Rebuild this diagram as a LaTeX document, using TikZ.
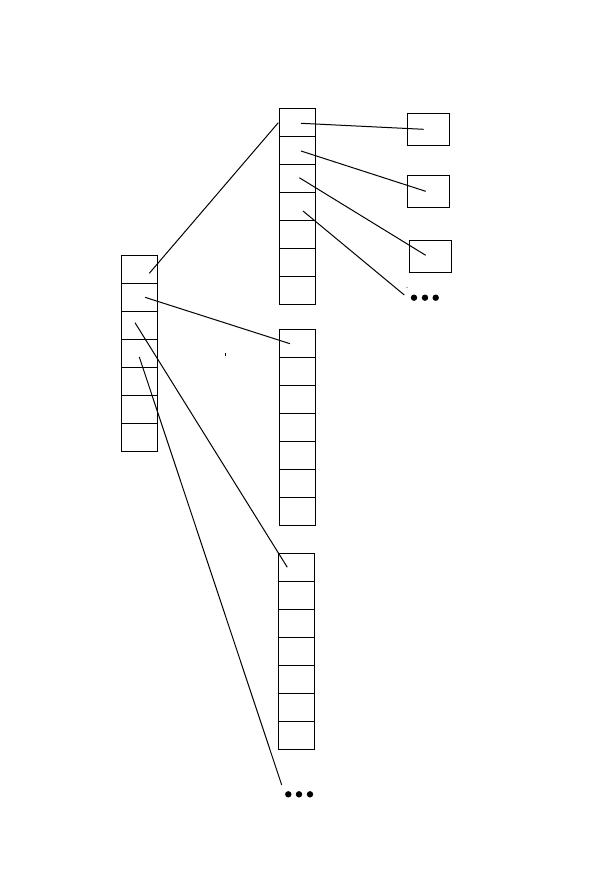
\documentclass[tikz,border=0pt]{standalone}
\begin{document}
\begin{tikzpicture}[x=0.5pt,y=-0.5pt,
  cell/.style={draw=black,line width=0.55pt,minimum width=18pt,minimum height=14pt,inner sep=0pt,outer sep=0pt},
  lcell/.style={cell,minimum width=18.2pt},
  rbox/.style={draw=black,line width=0.55pt,minimum width=21.2pt,minimum height=16pt,inner sep=0pt,outer sep=0pt},
  ptr/.style={draw=black,line width=0.5pt},
  dotn/.style={circle,fill=black,minimum size=3.2pt,inner sep=0pt,outer sep=0pt}]
\useasboundingbox (0,0) rectangle (590,878);
% left column
\foreach \i in {0,...,6} \node[lcell] (L\i) at (139.5,{269.3+28*\i}) {};
% middle columns
\foreach \i in {0,...,6} \node[cell] (A\i) at (297.2,{122.3+28*\i}) {};
\foreach \i in {0,...,6} \node[cell] (B\i) at (297.2,{343.3+28*\i}) {};
\foreach \i in {0,...,6} \node[cell] (C\i) at (296.3,{567.3+28*\i}) {};
% right boxes
\node[rbox] (R1) at (428.5,129.3) {};
\node[rbox] (R2) at (428.5,191.3) {};
\node[rbox] (R3) at (430.3,256.3) {};
% dots
\node[dotn] (t1) at (414,297.7) {};
\node[dotn] (t2) at (425,297.7) {};
\node[dotn] (t3) at (435.7,297.7) {};
\node[dotn] (b1) at (288.3,794.3) {};
\node[dotn] (b2) at (299,794.3) {};
\node[dotn] (b3) at (310,794.3) {};
% pointer end points
\coordinate (p1s) at (149.3,273.3);
\coordinate (p1e) at (278.3,122.7);
\coordinate (p2s) at (145,297.3);
\coordinate (p2e) at (290,343.7);
\coordinate (p3s) at (135,322.7);
\coordinate (p3e) at (287.3,567.3);
\coordinate (p4s) at (139.3,357);
\coordinate (p4e) at (281.7,785);
\coordinate (qas) at (301,123.3);
\coordinate (qae) at (423.7,129.3);
\coordinate (qbs) at (301,151);
\coordinate (qbe) at (425.7,191.3);
\coordinate (qcs) at (299.3,177.7);
\coordinate (qce) at (425.7,255.3);
\coordinate (qds) at (303,211);
\coordinate (qde) at (404.3,295);
\draw[ptr] (p1s) -- (p1e);
\draw[ptr] (p2s) -- (p2e);
\draw[ptr] (p3s) -- (p3e);
\draw[ptr] (p4s) -- (p4e);
\draw[ptr] (qas) -- (qae);
\draw[ptr] (qbs) -- (qbe);
\draw[ptr] (qcs) -- (qce);
\draw[ptr] (qds) -- (qde);
% stray marks
\coordinate (m1) at (225.3,353.2);
\coordinate (m2) at (225.3,355.6);
\draw[line width=0.5pt] (m1) -- (m2);
\fill (407,287.7) circle (0.5);
\end{tikzpicture}
\end{document}
